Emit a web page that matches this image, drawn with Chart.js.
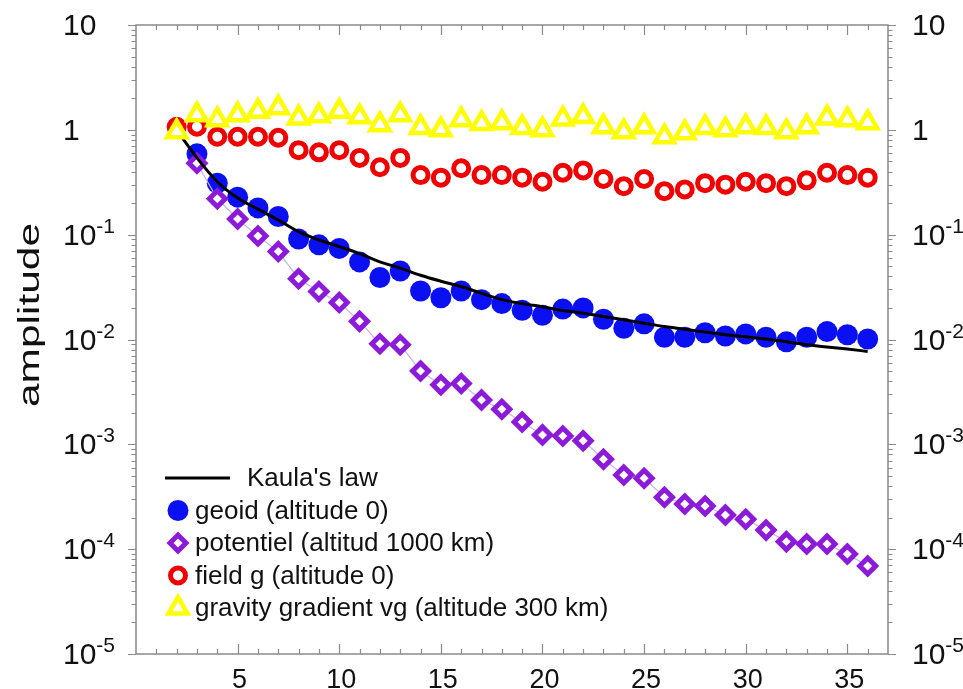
<!DOCTYPE html>
<html>
<head>
<meta charset="utf-8">
<script src="https://cdn.jsdelivr.net/npm/chart.js@4/dist/chart.umd.min.js"></script>
<style>
  html, body { margin: 0; padding: 0; background: #fff; }
  #wrap { width: 963px; height: 689px; }
</style>
</head>
<body>
<div id="wrap"><canvas id="kaulaChart" width="963" height="689"></canvas></div>
<script>
// --- data ---
const degrees = [2, 3, 4, 5, 6, 7, 8, 9, 10, 11, 12, 13, 14, 15, 16, 17, 18, 19, 20,
                 21, 22, 23, 24, 25, 26, 27, 28, 29, 30, 31, 32, 33, 34, 35, 36];

const kaula = [1.0, 0.54, 0.32, 0.224, 0.175, 0.138, 0.107, 0.089, 0.077, 0.066, 0.055,
               0.048, 0.041, 0.036, 0.032, 0.0276, 0.024, 0.022, 0.0205, 0.0189, 0.0178,
               0.0166, 0.0154, 0.0143, 0.0133, 0.0125, 0.0118, 0.0111, 0.0106, 0.0101,
               0.0095, 0.0089, 0.0085, 0.0081, 0.0077];

const geoid = [null, 0.59, 0.31, 0.228, 0.18, 0.149, 0.091, 0.080, 0.074, 0.055, 0.039,
               0.045, 0.029, 0.025, 0.029, 0.024, 0.022, 0.019, 0.017, 0.0195, 0.020,
               0.0156, 0.0128, 0.0141, 0.0105, 0.0105, 0.0116, 0.0108, 0.0113, 0.0105,
               0.0095, 0.0105, 0.0119, 0.0111, 0.0101];

const potentiel = [null, 0.48, 0.22, 0.141, 0.097, 0.069, 0.038, 0.0287, 0.0225, 0.0149,
                   0.0091, 0.0089, 0.0050, 0.0037, 0.0038, 0.00265, 0.00216, 0.00163,
                   0.00123, 0.0012, 0.00108, 0.00072, 0.00051, 0.000475, 0.000313,
                   0.00027, 0.000258, 0.000212, 0.000193, 0.000152, 0.000118, 0.000112,
                   0.000112, 0.00009, 0.0000692];

const fieldG = [1.07, 1.07, 0.86, 0.86, 0.86, 0.84, 0.64, 0.61, 0.64, 0.54, 0.44, 0.54,
                0.37, 0.35, 0.43, 0.37, 0.37, 0.35, 0.32, 0.39, 0.41, 0.34, 0.29, 0.34,
                0.26, 0.27, 0.31, 0.30, 0.32, 0.31, 0.29, 0.33, 0.39, 0.37, 0.35];

const gradient = [0.96, 1.39, 1.25, 1.39, 1.50, 1.62, 1.30, 1.36, 1.50, 1.33, 1.12, 1.39,
                  1.05, 1.0, 1.25, 1.15, 1.17, 1.05, 1.0, 1.27, 1.34, 1.07, 0.96, 1.07,
                  0.86, 0.94, 1.05, 1.0, 1.07, 1.05, 0.96, 1.07, 1.30, 1.25, 1.17];

const xTickLabels = [5, 10, 15, 20, 25, 30, 35];
const yTickExps = [-5, -4, -3, -2, -1, 0, 1];
const seriesNames = ["Kaula's law", 'geoid (altitude 0)', 'potentiel (altitud 1000 km)',
                     'field g (altitude 0)', 'gravity gradient vg (altitude 300 km)'];

function pts(vals) {
    return degrees.map((d, i) => ({ x: d, y: vals[i] })).filter(p => p.y !== null);
}

const axisGray = '#8a8a8a';
const FONT = "'Liberation Sans', Arial, sans-serif";

// frame, ticks and tick labels
const framePlugin = {
    id: 'frame',
    beforeDatasetsDraw(chart) {
        const { ctx, chartArea: a, scales: { x, y } } = chart;
        ctx.save();
        ctx.strokeStyle = axisGray;
        ctx.lineWidth = 1.5;
        ctx.strokeRect(a.left, a.top, a.right - a.left, a.bottom - a.top);
        ctx.lineWidth = 1.2;
        ctx.beginPath();
        for (let n = 1; n <= 36; n++) {
            const px = Math.round(x.getPixelForValue(n)) + 0.5;
            const len = n % 5 === 0 ? 10 : 5;
            ctx.moveTo(px, a.bottom); ctx.lineTo(px, a.bottom - len);
            ctx.moveTo(px, a.top); ctx.lineTo(px, a.top + len);
        }
        for (let e = -5; e <= 1; e++) {
            for (let k = 1; k <= 9; k++) {
                if (e === 1 && k > 1) break;
                const py = Math.round(y.getPixelForValue(k * Math.pow(10, e))) + 0.5;
                const len = k === 1 ? 8 : 4.5;
                ctx.moveTo(a.left, py); ctx.lineTo(a.left - len, py);
                ctx.moveTo(a.right, py); ctx.lineTo(a.right + len, py);
            }
        }
        ctx.stroke();

        // y labels, both sides
        ctx.fillStyle = '#111';
        ctx.textAlign = 'left';
        ctx.textBaseline = 'alphabetic';
        yTickExps.forEach(e => {
            const py = y.getPixelForValue(Math.pow(10, e));
            [63, 912].forEach(lx => {
                ctx.font = '30px ' + FONT;
                if (e === 0) { ctx.fillText('1', lx, py + 10); return; }
                ctx.fillText('10', lx, py + 10);
                if (e === 1) return;
                const w = ctx.measureText('10').width;
                ctx.font = '21px ' + FONT;
                ctx.fillText('-' + Math.abs(e), lx + w, py - 2);
            });
        });

        // x labels
        ctx.font = '27px ' + FONT;
        ctx.textAlign = 'center';
        xTickLabels.forEach(v => {
            ctx.fillText(String(v), x.getPixelForValue(v) + 2, 688);
        });

        // y title, stretched along its length like the original
        ctx.save();
        ctx.translate(39, 315);
        ctx.rotate(-Math.PI / 2);
        ctx.font = '29px ' + FONT;
        const tw = ctx.measureText('amplitude').width;
        ctx.scale(184 / tw, 1);
        ctx.textAlign = 'center';
        ctx.fillStyle = '#111';
        ctx.fillText('amplitude', 0, 0);
        ctx.restore();
        ctx.restore();
    }
};

function marker(ctx, style, cx, cy, r, bw, fill, stroke) {
    ctx.beginPath();
    if (style === 'circle') {
        ctx.arc(cx, cy, r, 0, Math.PI * 2);
    } else if (style === 'rectRot') {
        ctx.moveTo(cx - r, cy); ctx.lineTo(cx, cy - r);
        ctx.lineTo(cx + r, cy); ctx.lineTo(cx, cy + r);
    } else if (style === 'triangle') {
        const s = Math.sin(Math.PI * 2 / 3) * r;
        ctx.moveTo(cx, cy - r);
        ctx.lineTo(cx + s, cy + r / 2);
        ctx.lineTo(cx - s, cy + r / 2);
    }
    ctx.closePath();
    ctx.fillStyle = fill;
    ctx.fill();
    if (bw > 0) { ctx.lineWidth = bw; ctx.strokeStyle = stroke; ctx.stroke(); }
}

const legendPlugin = {
    id: 'cornerLegend',
    afterDatasetsDraw(chart) {
        const ctx = chart.ctx;
        const ds = chart.data.datasets;
        const rows = [478, 510.5, 543, 575.5, 608];
        ctx.save();
        ctx.font = '26px ' + FONT;
        ctx.fillStyle = '#111';
        ctx.textBaseline = 'middle';
        ctx.textAlign = 'left';
        // Kaula line sample
        ctx.strokeStyle = ds[0].borderColor;
        ctx.lineWidth = ds[0].borderWidth;
        ctx.beginPath(); ctx.moveTo(165, rows[0]); ctx.lineTo(230, rows[0]); ctx.stroke();
        ctx.fillText(ds[0].label, 247, rows[0] + 1);
        for (let i = 1; i < ds.length; i++) {
            const d = ds[i];
            marker(ctx, d.pointStyle, 178, rows[i], d.pointRadius, d.pointBorderWidth,
                   d.pointBackgroundColor, d.pointBorderColor);
            ctx.fillStyle = '#111';
            ctx.fillText(d.label, 195, rows[i] + 1);
        }
        ctx.restore();
    }
};

const ctxK = document.getElementById('kaulaChart').getContext('2d');
new Chart(ctxK, {
    type: 'line',
    data: {
        datasets: [
            {
                label: seriesNames[0],
                data: pts(kaula),
                borderColor: '#000',
                borderWidth: 3,
                pointRadius: 0,
                cubicInterpolationMode: 'monotone',
                order: 2
            },
            {
                label: seriesNames[1],
                data: pts(geoid),
                showLine: false,
                pointStyle: 'circle',
                pointRadius: 10.5,
                pointBorderWidth: 0,
                pointBackgroundColor: '#0a10f2',
                pointBorderColor: '#0a10f2',
                order: 4
            },
            {
                label: seriesNames[2],
                data: pts(potentiel),
                borderColor: '#cbb0ea',
                borderWidth: 1.2,
                pointStyle: 'rectRot',
                pointRadius: 8,
                pointBorderWidth: 5,
                pointBackgroundColor: '#fff',
                pointBorderColor: '#8b1ad9',
                order: 3
            },
            {
                label: seriesNames[3],
                data: pts(fieldG),
                showLine: false,
                pointStyle: 'circle',
                pointRadius: 7.5,
                pointBorderWidth: 5,
                pointBackgroundColor: '#fff',
                pointBorderColor: '#f00000',
                order: 1
            },
            {
                label: seriesNames[4],
                data: pts(gradient),
                showLine: false,
                pointStyle: 'triangle',
                pointRadius: 11,
                pointBorderWidth: 4.5,
                pointBackgroundColor: '#fff',
                pointBorderColor: '#ffff00',
                order: 0
            }
        ]
    },
    options: {
        responsive: false,
        animation: false,
        layout: { padding: { top: 25, left: 0, right: 0, bottom: 0 } },
        plugins: {
            legend: { display: false },
            tooltip: { enabled: false }
        },
        scales: {
            x: {
                type: 'linear',
                min: 0,
                max: 37,
                grid: { display: false },
                border: { display: false },
                ticks: { display: false },
                afterFit: s => { s.height = 35; }
            },
            y: {
                type: 'logarithmic',
                position: 'left',
                min: 1e-5,
                max: 10,
                grid: { display: false },
                border: { display: false },
                ticks: { display: false },
                afterFit: s => { s.width = 136; }
            },
            y2: {
                type: 'logarithmic',
                position: 'right',
                min: 1e-5,
                max: 10,
                grid: { display: false },
                border: { display: false },
                ticks: { display: false },
                afterFit: s => { s.width = 75; }
            }
        }
    },
    plugins: [framePlugin, legendPlugin]
});
</script>
</body>
</html>
